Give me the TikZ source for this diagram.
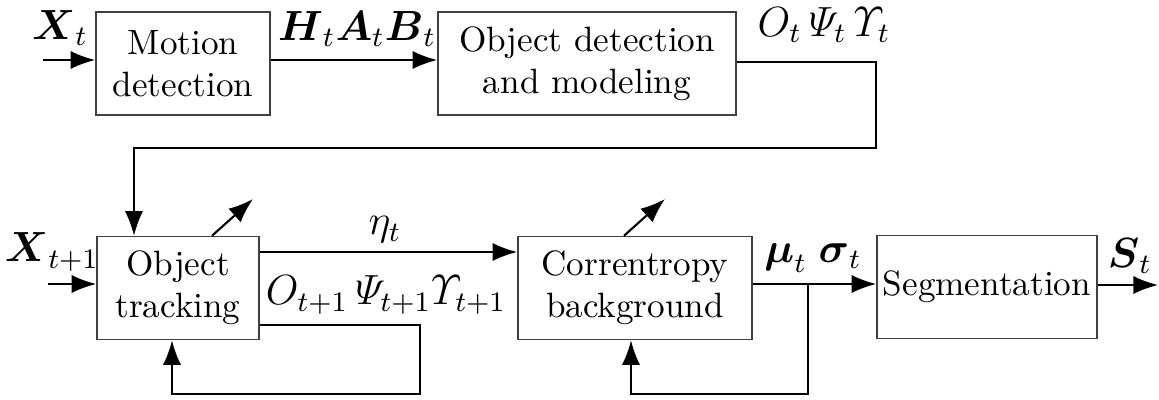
\documentclass[tikz,border=0pt]{standalone}
\usepackage{amsmath}
\usepackage{amssymb}
\usepackage{tikz}
\usetikzlibrary{arrows.meta,calc}

\begin{document}
\begin{tikzpicture}[x=0.01cm,y=-0.01cm,
  blk/.style={draw=black!75,line width=0.4pt,minimum height=1.03cm,inner sep=1pt,align=center},
  lnk/.style={-{Latex[length=7pt,width=5.2pt]},line width=0.6pt},
  lbl/.style={inner sep=0pt,font=\large}]
  \useasboundingbox (0,0) rectangle (1159,399);
  % blocks
  \node[blk,minimum width=1.74cm] (md) at (183,63.5) {Motion\\detection};
  \node[blk,minimum width=2.98cm] (odm) at (587,63.5) {Object detection\\and modeling};
  \node[blk,minimum width=1.62cm] (ot) at (178,288) {Object\\tracking};
  \node[blk,minimum width=2.34cm] (cb) at (635,288) {Correntropy\\background};
  \node[blk,minimum width=2.20cm] (seg) at (987,287) {Segmentation};
  % helper points
  \coordinate (xin) at (43,60);
  \coordinate (tr) at (876,62);
  \coordinate (tl) at (134,148);
  \coordinate (xin2) at (48,284);
  \coordinate (eta) at (300,252);
  \coordinate (fbA) at (420,325);
  \coordinate (fbB) at (172,394);
  \coordinate (brA) at (808,284);
  \coordinate (brB) at (631,394);
  \coordinate (sout) at (1158,285);
  \coordinate (otp) at (253,199);
  \coordinate (cbp) at (665,199);
  % connectors
  \draw[lnk] (xin) -- (xin -| md.west);
  \draw[lnk] (xin -| md.east) -- (xin -| odm.west);
  \draw[lnk] (tr -| odm.east) -- (tr) |- (tl) -- (tl |- ot.north);
  \draw[lnk] (xin2) -- (xin2 -| ot.west);
  \draw[lnk] (eta -| ot.east) -- (eta -| cb.west);
  \draw[lnk] (fbA -| ot.east) -- (fbA) |- (fbB) -- (fbB |- ot.south);
  \draw[lnk] (cb.east |- brA) -- (seg.west |- brA);
  \draw[lnk] (brA) |- (brB) -- (brB |- cb.south);
  \draw[lnk] (seg.east |- sout) -- (sout);
  \draw[lnk] ($(ot.north)+(34,0)$) -- (otp);
  \draw[lnk] ($(cb.north)+(-11,0)$) -- (cbp);
  % labels
  \node[lbl] (lx) at (60,28) {$\boldsymbol{X}_t$};
  \node[lbl] (lhab) at (357,29) {$\boldsymbol{H}_t\boldsymbol{A}_t\boldsymbol{B}_t$};
  \node[lbl] (lopu) at (824,25) {$O_t\,\varPsi_t\,\varUpsilon_t$};
  \node[lbl] (lx2) at (52,252) {$\boldsymbol{X}_{t+1}$};
  \node[lbl] (leta) at (385,230) {$\eta_t$};
  \node[lbl] (lopu2) at (386,295) {$O_{t+1}\,\varPsi_{t+1}\varUpsilon_{t+1}$};
  \node[lbl] (lms) at (813,258) {$\boldsymbol{\mu}_t\;\boldsymbol{\sigma}_t$};
  \node[lbl] (ls) at (1130,256) {$\boldsymbol{S}_t$};
\end{tikzpicture}
\end{document}
